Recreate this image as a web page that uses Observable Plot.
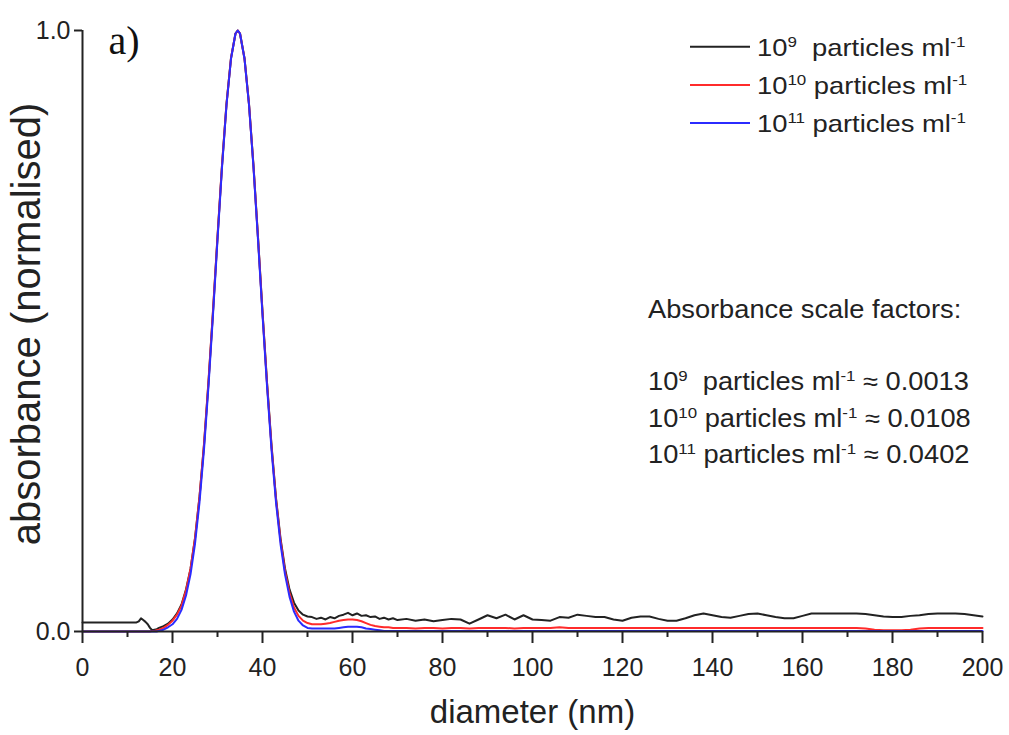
<!DOCTYPE html>
<html><head><meta charset="utf-8">
<script src="https://cdn.jsdelivr.net/npm/d3@7"></script>
<script src="https://cdn.jsdelivr.net/npm/@observablehq/plot@0.6"></script>
<style>body{margin:0;background:#fff} svg{display:block}</style>
</head><body><div id="chart"></div>
<script>
// diameter grid (nm)
const diameter = [0,2,4,6,8,10,12,12.5,13,13.5,14,14.5,15,15.5,16,16.5,17,
  18,19,20,21,22,23,24,25,26,27,28,29,30,31,32,33,34,34.5,
  35,36,37,38,39,40,41,42,43,44,45,46,47,48,49,50,
  51,52,53,54,55,56,57,58,59,60,61,62,63,64,65,66,67,68,69,70,
  72,74,76,78,80,82,84,86,88,90,92,94,96,98,100,102,104,106,108,110,
  112,114,116,118,120,122,124,126,128,130,132,134,136,138,140,142,144,146,148,150,
  152,154,156,158,160,162,164,166,168,170,172,174,176,178,180,182,184,186,188,190,
  192,194,196,198,200];

// 10^9 particles/ml
const abs1e9 = [0.015,0.015,0.015,0.015,0.015,0.015,0.015,0.017,0.022,0.019,0.016,0.012,0.006,0.002,0.003,0.004,0.006,
  0.009,0.013,0.02,0.03,0.045,0.07,0.104,0.155,0.224,0.31,0.415,0.532,0.656,0.775,0.878,0.954,0.995,1.0,
  0.995,0.954,0.878,0.775,0.656,0.532,0.415,0.31,0.222,0.155,0.105,0.07,0.048,0.035,0.028,0.025,
  0.024,0.021,0.023,0.02,0.024,0.022,0.026,0.028,0.031,0.027,0.03,0.026,0.027,0.024,0.025,0.021,0.023,0.02,0.022,0.019,
  0.021,0.018,0.02,0.017,0.019,0.021,0.02,0.013,0.02,0.027,0.022,0.028,0.02,0.027,0.02,0.019,0.018,0.024,0.023,0.028,
  0.026,0.024,0.024,0.02,0.018,0.023,0.025,0.025,0.021,0.018,0.018,0.022,0.027,0.03,0.027,0.024,0.023,0.026,0.029,0.03,
  0.027,0.024,0.022,0.022,0.026,0.03,0.03,0.03,0.03,0.03,0.03,0.029,0.027,0.025,0.024,0.024,0.026,0.027,0.029,0.03,
  0.03,0.03,0.029,0.027,0.025];

// 10^10 particles/ml
const abs1e10 = [0,0,0,0,0,0,0,0,0,0,0,0,0,0.001,0.001,0.002,0.003,
  0.006,0.011,0.018,0.028,0.043,0.068,0.104,0.155,0.224,0.312,0.417,0.534,0.657,0.776,0.878,0.954,0.995,1.0,
  0.995,0.953,0.877,0.774,0.655,0.531,0.413,0.308,0.22,0.152,0.1,0.064,0.04,0.026,0.018,0.014,
  0.012,0.012,0.012,0.013,0.014,0.016,0.018,0.019,0.02,0.02,0.019,0.017,0.014,0.011,0.009,0.008,0.007,0.007,0.006,0.006,
  0.006,0.005,0.006,0.006,0.005,0.006,0.006,0.005,0.006,0.006,0.006,0.006,0.005,0.006,0.006,0.006,0.006,0.007,0.006,0.006,
  0.006,0.006,0.006,0.006,0.006,0.006,0.006,0.006,0.006,0.006,0.006,0.006,0.006,0.006,0.006,0.006,0.006,0.006,0.006,0.006,
  0.006,0.006,0.006,0.006,0.006,0.006,0.006,0.006,0.006,0.006,0.006,0.005,0.003,0.002,0.002,0.002,0.003,0.005,0.006,0.006,
  0.006,0.006,0.006,0.006,0.006];

// 10^11 particles/ml
const abs1e11 = [0,0,0,0,0,0,0,0,0,0,0,0,0,0,0,0,0.001,
  0.003,0.007,0.012,0.021,0.036,0.06,0.095,0.146,0.215,0.303,0.409,0.527,0.652,0.772,0.876,0.953,0.995,1.0,
  0.995,0.953,0.876,0.772,0.652,0.527,0.409,0.303,0.215,0.146,0.095,0.058,0.033,0.018,0.01,0.006,
  0.005,0.005,0.005,0.005,0.005,0.005,0.006,0.007,0.008,0.008,0.008,0.007,0.005,0.004,0.003,0.002,0.001,0.001,0.001,0.001,
  0.001,0.001,0.001,0.001,0.001,0.001,0.001,0.001,0.001,0.001,0.001,0.001,0.001,0.001,0.001,0.001,0.001,0.001,0.001,0.001,
  0.001,0.001,0.001,0.001,0.001,0.001,0.001,0.001,0.001,0.001,0.001,0.001,0.001,0.001,0.001,0.001,0.001,0.001,0.001,0.001,
  0.001,0.001,0.001,0.001,0.001,0.001,0.001,0.001,0.001,0.001,0.001,0.001,0.001,0.001,0.001,0.001,0.001,0.001,0.001,0.001,
  0.001,0.001,0.001,0.001,0.001];

const seriesExponents = ["9", "10", "11"];
const seriesColors = ["#222222", "#ff2b2b", "#2b2bff"];
const scaleFactors = ["0.0013", "0.0108", "0.0402"];
const xTicks = [0,20,40,60,80,100,120,140,160,180,200];
const xMinorTicks = [10,30,50,70,90,110,130,150,170,190];
const yTicks = [0,1];

const W = 1009, H = 735;
const mL = 82, mR = 27, mT = 30, mB = 104;
const font = "'Liberation Sans', Arial, sans-serif";
const ink = "#222";

const seriesData = [abs1e9, abs1e10, abs1e11];
const rows = seriesData.map((vals, s) => diameter.map((d, i) => ({d, a: vals[i], s})));

// label parts: [text, superscript?]
const labelParts = (i) => [["10", false], [seriesExponents[i], true],
  [(seriesExponents[i].length === 1 ? "  " : " ") + "particles ml", false], ["-1", true]];

function richText(g, x, y, parts, size, stretch) {
  const t = g.append("text")
    .attr("transform", `translate(${x},${y}) scale(${stretch},1)`)
    .attr("font-family", font).attr("font-size", size)
    .attr("fill", ink).attr("text-anchor", "start");
  const rise = size * 0.36;
  parts.forEach(([s, sup], k) => {
    const ts = t.append("tspan").text(s);
    if (sup) ts.attr("font-size", size * 0.62).attr("dy", -rise);
    else if (k > 0 && parts[k - 1][1]) ts.attr("dy", rise);
  });
  return t;
}

const legendLineY = [46.7, 85, 123];
const legendMark = () => {
  const g = d3.create("svg:g");
  legendLineY.forEach((py, i) => {
    g.append("line").attr("x1", 690).attr("x2", 750).attr("y1", py).attr("y2", py)
      .attr("stroke", seriesColors[i]).attr("stroke-width", 2);
    richText(g, 757, py + 9, labelParts(i), 24, 1.14);
  });
  return g.node();
};

const annotationBaselines = [318, 390, 427, 463];
const annotationMark = () => {
  const g = d3.create("svg:g");
  richText(g, 648, annotationBaselines[0], [["Absorbance scale factors:", false]], 25, 1.09);
  seriesExponents.forEach((e, i) => {
    richText(g, 648, annotationBaselines[i + 1], [...labelParts(i), [" ≈ " + scaleFactors[i], false]], 25, 1.09);
  });
  return g.node();
};

const yTitleMark = () => {
  const g = d3.create("svg:g");
  g.append("text").attr("transform", "translate(40,324) rotate(-90)")
    .attr("font-family", font).attr("font-size", 40).attr("fill", ink)
    .attr("text-anchor", "middle").text("absorbance (normalised)");
  return g.node();
};

const plot = Plot.plot({
  width: W, height: H,
  marginLeft: mL, marginRight: mR, marginTop: mT, marginBottom: mB,
  style: {fontFamily: font, background: "#fff", color: ink},
  x: {domain: [0, 200]},
  y: {domain: [0, 1]},
  marks: [
    ...rows.map((r, s) => Plot.line(r, {x: "d", y: "a", stroke: seriesColors[s], strokeWidth: 2, curve: "linear"})),
    Plot.ruleX([0], {stroke: ink, strokeWidth: 2}),
    Plot.ruleY([0], {stroke: ink, strokeWidth: 2}),
    Plot.axisX({ticks: xTicks, tickSize: 12, tickPadding: 15, fontSize: 25, strokeWidth: 2, label: null}),
    Plot.axisX({ticks: xMinorTicks, tickSize: 6, strokeWidth: 2, text: null, label: null}),
    Plot.axisY({ticks: yTicks, tickSize: 8, tickPadding: 4, fontSize: 25, strokeWidth: 2, tickFormat: d3.format(".1f"), label: null}),
    Plot.text(["diameter (nm)"], {frameAnchor: "bottom", dy: 91, lineAnchor: "bottom", fontSize: 33, fill: ink}),
    yTitleMark,
    Plot.text(["a)"], {frameAnchor: "top-left", dx: 26, dy: 23, lineAnchor: "bottom", textAnchor: "start", fontSize: 40, fontFamily: "'Liberation Serif', 'Times New Roman', serif", fill: "#111"}),
    annotationMark,
    legendMark
  ]
});
document.getElementById("chart").appendChild(plot);
</script>
</body></html>
